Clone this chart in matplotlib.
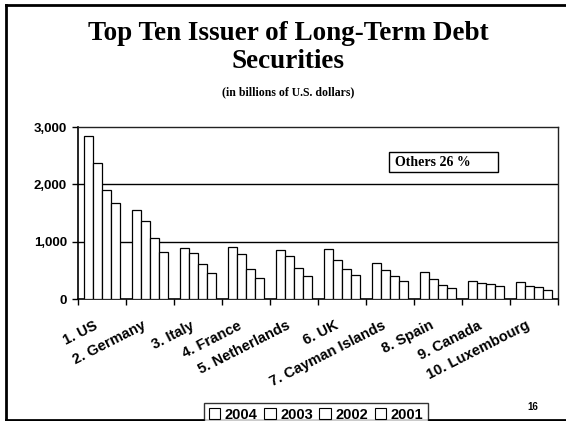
import matplotlib
matplotlib.use("Agg")
import matplotlib.pyplot as plt
import matplotlib.transforms as mtransforms
from matplotlib.patches import Patch, Rectangle
from matplotlib.lines import Line2D
import numpy as np

countries = ["1. US", "2. Germany", "3. Italy", "4. France", "5. Netherlands",
             "6. UK", "7. Cayman Islands", "8. Spain", "9. Canada", "10. Luxembourg"]
years = ["2004", "2003", "2002", "2001"]
v2004 = [2840, 1555, 896, 907, 850, 879, 630, 468, 312, 289]
v2003 = [2364, 1364, 803, 792, 746, 676, 514, 341, 283, 231]
v2002 = [1902, 1069, 618, 520, 549, 520, 405, 243, 254, 202]
v2001 = [1671, 827, 445, 364, 399, 410, 312, 185, 231, 156]
series = [v2004, v2003, v2002, v2001]
yticks = [0, 1000, 2000, 3000]
ytick_labels = ["0", "1,000", "2,000", "3,000"]

SANS = "Liberation Sans"
SERIF = "Liberation Serif"

W, H = 566, 421
fig = plt.figure(figsize=(W / 100, H / 100), dpi=100)
fig.patch.set_facecolor("white")

ax = fig.add_axes([78 / W, 1 - 299 / H, (558 - 78) / W, (299 - 127) / H])

x = np.arange(len(countries))
bw = 0.1875
for k, vals in enumerate(series):
    ax.bar(x + (k - 1.5) * bw, vals, width=bw, color="white",
           edgecolor="black", linewidth=0.9, zorder=3, label=years[k])

ax.set_xlim(-0.5, len(countries) - 0.5)
ax.set_ylim(0, 3000)
ax.set_yticks(yticks)
ax.set_yticklabels(ytick_labels, fontfamily=SANS, fontweight="bold", fontsize=9.5)
for g in (1000, 2000):
    ax.axhline(g, color="black", linewidth=1.0, zorder=1)

# tick marks at the group boundaries, labels at group centres
ax.set_xticks(np.arange(-0.5, len(countries)), minor=True)
ax.set_xticks(x)
ax.set_xticklabels(countries, rotation=27, ha="right", va="top",
                   rotation_mode="anchor", fontfamily=SANS, fontweight="bold",
                   fontsize=10.5)
ax.tick_params(axis="x", which="major", length=0, pad=14)
ax.tick_params(axis="x", which="minor", length=4, width=1, direction="out")
ax.tick_params(axis="y", length=4, width=1, direction="out", pad=4)
shift = mtransforms.ScaledTranslation(-8 / 100, 0, fig.dpi_scale_trans)
for lbl in ax.get_xticklabels():
    lbl.set_transform(lbl.get_transform() + shift)

for side in ("left", "bottom"):
    ax.spines[side].set_linewidth(1.2)
    ax.spines[side].set_color("black")
for side in ("top", "right"):
    ax.spines[side].set_linewidth(1.0)
    ax.spines[side].set_color("#222222")

# titles
fig.text(288 / W, 1 - 40 / H, "Top Ten Issuer of Long-Term Debt", ha="center",
         va="baseline", fontfamily=SERIF, fontweight="bold", fontsize=19.5)
fig.text(288 / W, 1 - 68 / H, "Securities", ha="center", va="baseline",
         fontfamily=SERIF, fontweight="bold", fontsize=19.5)
fig.text(288 / W, 1 - 95 / H, "(in billions of U.S. dollars)", ha="center",
         va="baseline", fontfamily=SERIF, fontweight="bold", fontsize=8.5)

# annotation box
fig.patches.append(Rectangle((389 / W, 1 - 172 / H), 109 / W, 20 / H,
                             transform=fig.transFigure, facecolor="white",
                             edgecolor="black", linewidth=1.0, zorder=5))
fig.text(395 / W, 1 - 162 / H, "Others 26 %", ha="left", va="center",
         fontfamily=SERIF, fontweight="bold", fontsize=10, zorder=6)

# legend
handles = [Patch(facecolor="white", edgecolor="black", linewidth=0.8) for _ in years]
leg = fig.legend(handles, years, loc="lower center", bbox_to_anchor=(316 / W, -0.012),
                 ncol=4, frameon=True, fancybox=False, edgecolor="black",
                 prop={"family": SANS, "weight": "bold", "size": 10.5},
                 handlelength=0.8, handleheight=0.8, handletextpad=0.3,
                 columnspacing=0.45, borderpad=0.3, borderaxespad=0)
leg.get_frame().set_linewidth(1.0)

fig.text(533 / W, 1 - 407 / H, "16", ha="center", va="center",
         fontfamily=SANS, fontweight="bold", fontsize=7)

# slide frame
for xs, ys in [((5.5, 5.5), (4.5, 420)), ((5.5, 566), (4.5, 4.5)), ((5.5, 566), (419.5, 419.5))]:
    fig.add_artist(Line2D([v / W for v in xs], [1 - v / H for v in ys],
                          transform=fig.transFigure, color="black", linewidth=2.0))

fig.savefig("out.png", dpi=100)
